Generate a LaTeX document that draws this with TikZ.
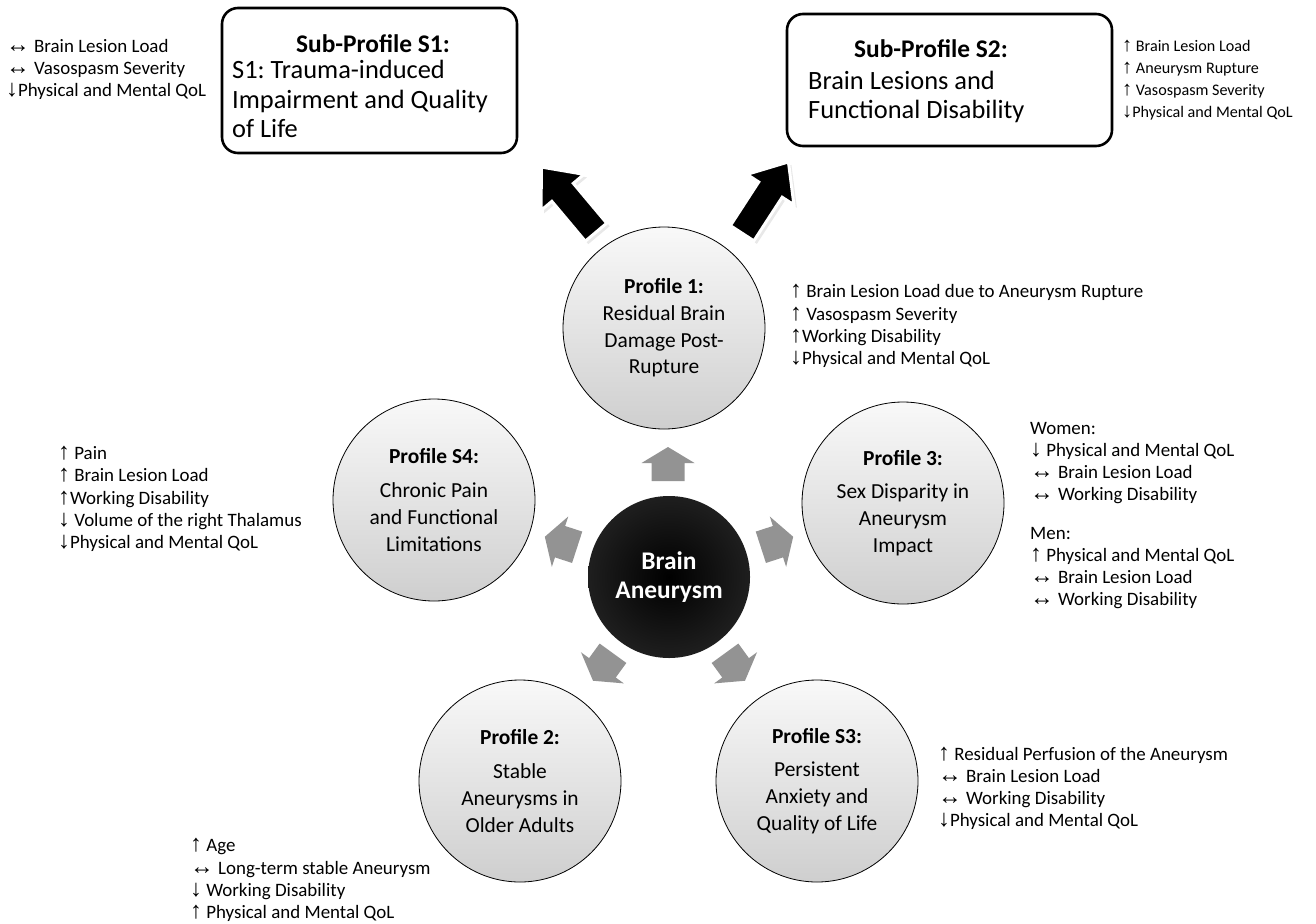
\documentclass[tikz,border=0pt]{standalone}
\usepackage{fontspec}
\setmainfont{Carlito}
\frenchspacing
\newfontfamily\arrfont[Scale=1.25]{Liberation Sans}
\newcommand{\ua}{{\arrfont ↑}}
\newcommand{\da}{{\arrfont ↓}}
\newcommand{\lra}{{\arrfont ↔}}
\begin{document}
\begin{tikzpicture}[x=1bp,y=-1bp,
  prof/.style={circle, draw=black, line width=0.8bp, minimum size=202bp, inner sep=0pt,
    top color=gray!5, bottom color=gray!38, align=center, font=\fontsize{21.5}{26.8}\selectfont},
  core/.style={circle, minimum size=162bp, inner sep=0pt, inner color=black, outer color=black!88,
    text=white, align=center, font=\fontsize{25.5}{29}\selectfont\bfseries},
  subbox/.style={draw=black, line width=2.6bp, rounded corners=16bp},
  lst/.style={align=left, inner sep=0pt, font=\fontsize{19}{22.3}\selectfont},
  smlst/.style={align=left, inner sep=0pt, font=\fontsize{16.2}{22.3}\selectfont},
  boxtxt/.style={align=left, inner sep=0pt, font=\fontsize{26.5}{30}\selectfont},
  boxtitle/.style={inner sep=0pt, font=\fontsize{25.5}{28}\selectfont\bfseries},
  grayarr/.style={fill=gray!85!white, draw=none},
  blackarr/.style={fill=black, draw=white, line width=3bp, line join=miter}
]
\useasboundingbox (0,0) rectangle (1316,923);

% sub-profile boxes
\draw[subbox] (222,8) rectangle (517,153);
\node[boxtitle] (s1t) at (373,44) {Sub-Profile S1:};
\node[boxtxt, anchor=west] (s1) at (232,99) {S1: Trauma-induced\\Impairment and Quality\\of Life};
\draw[subbox] (787,14) rectangle (1112,146);
\node[boxtitle] (s2t) at (931,49) {Sub-Profile S2:};
\node[boxtxt, anchor=west] (s2) at (808,97) {Brain Lesions and\\Functional Disability};

\node[lst, anchor=west] (s1l) at (6,69.5) {\lra{} Brain Lesion Load\\\lra{} Vasospasm Severity\\\da{}Physical and Mental QoL};
\node[smlst, anchor=west] (s2l) at (1122,80) {\ua{} Brain Lesion Load\\\ua{} Aneurysm Rupture\\\ua{} Vasospasm Severity\\\da{}Physical and Mental QoL};

% black arrows
\foreach \cx/\cy/\ang in {569/200/130, 765/198/57}{
  \fill[gray!18, shift={(\cx+3,\cy+3)}, rotate=\ang] (-42,-14) -- (10,-14) -- (10,-28) -- (43,0) -- (10,28) -- (10,14) -- (-42,14) -- cycle;
  \filldraw[blackarr, shift={(\cx,\cy)}, rotate=\ang] (-42,-14) -- (10,-14) -- (10,-28) -- (43,0) -- (10,28) -- (10,14) -- (-42,14) -- cycle;
}

% profile circles
\node[prof] (p1) at (664,328) {{\bfseries Profile 1:}\\Residual Brain\\Damage Post-\\Rupture};
\node[prof] (s4) at (434,500) {{\bfseries Profile S4:}\\[7bp]Chronic Pain\\and Functional\\Limitations};
\node[prof] (p3) at (903,503) {{\bfseries Profile 3:}\\[7bp]Sex Disparity in\\Aneurysm\\Impact};
\node[prof] (p2) at (520,781) {{\bfseries Profile 2:}\\[7bp]Stable\\Aneurysms in\\Older Adults};
\node[prof] (s3) at (817,781) {{\bfseries Profile S3:}\\[7bp]Persistent\\Anxiety and\\Quality of Life};

% center
\node[core] (ba) at (669,577) {Brain\\Aneurysm};

% gray arrows
\foreach \cx/\cy/\ang in {668/464/90, 561/542/162, 777/542/18, 603/667/234, 735/667/306}{
  \fill[grayarr, shift={(\cx,\cy)}, rotate=\ang] (-17,-16.5) -- (1,-16.5) -- (1,-26.5) -- (17,0) -- (1,26.5) -- (1,16.5) -- (-17,16.5) -- cycle;
}

% lists
\node[lst, anchor=west] (p1l) at (790,326) {\ua{} Brain Lesion Load due to Aneurysm Rupture\\\ua{} Vasospasm Severity\\\ua{}Working Disability\\\da{}Physical and Mental QoL};
\node[lst, anchor=west] (s4l) at (58,499) {\ua{} Pain\\\ua{} Brain Lesion Load\\\ua{}Working Disability\\\da{} Volume of the right Thalamus\\\da{}Physical and Mental QoL};
\node[lst, anchor=west] (p3w) at (1030,463) {Women:\\\da{} Physical and Mental QoL\\\lra{} Brain Lesion Load\\\lra{} Working Disability};
\node[lst, anchor=west] (p3m) at (1030,568) {Men:\\\ua{} Physical and Mental QoL\\\lra{} Brain Lesion Load\\\lra{} Working Disability};
\node[lst, anchor=west] (s3l) at (938,788.5) {\ua{} Residual Perfusion of the Aneurysm\\\lra{} Brain Lesion Load\\\lra{} Working Disability\\\da{}Physical and Mental QoL};
\node[lst, anchor=west] (p2l) at (190,880) {\ua{} Age\\\lra{} Long-term stable Aneurysm\\\da{} Working Disability\\\ua{} Physical and Mental QoL};
\end{tikzpicture}
\end{document}
